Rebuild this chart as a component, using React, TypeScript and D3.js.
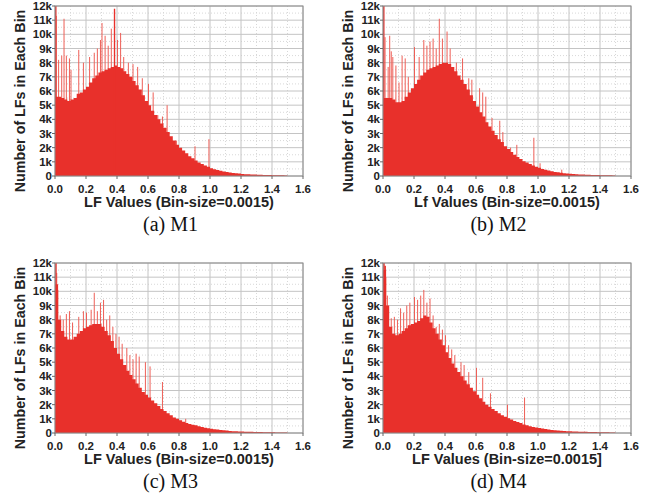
import React from 'react';
import * as d3 from 'd3';

// histogram bins, in thousands, bin starts 0.00, 0.02, ... 1.48
const BIN = 0.02;

const m1Values = [
  5.6, 5.6, 5.5, 5.4, 5.3, 5.4, 5.5, 5.8, 5.9, 6.1,
  6.3, 6.6, 6.9, 7.1, 7.3, 7.4, 7.5, 7.6, 7.7, 7.8,
  7.7, 7.6, 7.4, 7.2, 7.0, 6.7, 6.4, 6.1, 5.7, 5.3,
  5.0, 4.6, 4.3, 4.0, 3.7, 3.4, 3.1, 2.8, 2.5, 2.2,
  2.0, 1.8, 1.6, 1.4, 1.25, 1.1, 0.95, 0.85, 0.75, 0.65,
  0.55, 0.48, 0.42, 0.37, 0.32, 0.28, 0.25, 0.22, 0.19, 0.17,
  0.15, 0.13, 0.12, 0.11, 0.1, 0.09, 0.08, 0.075, 0.07, 0.065,
  0.06, 0.055, 0.05, 0.045, 0.04,
];

const m2Values = [
  5.5, 5.5, 5.5, 5.4, 5.2, 5.2, 5.3, 5.6, 5.9, 6.2,
  6.5, 6.8, 7.1, 7.3, 7.5, 7.6, 7.7, 7.8, 7.9, 8.0,
  8.0, 7.9, 7.7, 7.4, 7.1, 6.8, 6.5, 6.1, 5.7, 5.3,
  4.9, 4.5, 4.2, 3.8, 3.5, 3.2, 2.9, 2.6, 2.4, 2.1,
  1.9, 1.7, 1.5, 1.35, 1.2, 1.05, 0.95, 0.85, 0.75, 0.65,
  0.58, 0.5, 0.44, 0.38, 0.33, 0.29, 0.26, 0.23, 0.2, 0.18,
  0.16, 0.14, 0.12, 0.11, 0.1, 0.09, 0.08, 0.075, 0.07, 0.065,
  0.06, 0.055, 0.05, 0.045, 0.04,
];

const m3Values = [
  10.5, 8.0, 7.2, 6.8, 6.6, 6.6, 6.8, 7.0, 7.2, 7.4,
  7.5, 7.6, 7.7, 7.7, 7.7, 7.5, 7.2, 6.9, 6.5, 6.0,
  5.6, 5.2, 4.8, 4.4, 4.1, 3.8, 3.5, 3.2, 2.9, 2.7,
  2.5, 2.3, 2.1, 1.9, 1.7, 1.55, 1.4, 1.25, 1.1, 1.0,
  0.9, 0.8, 0.7, 0.64, 0.59, 0.55, 0.48, 0.42, 0.37, 0.33,
  0.3, 0.27, 0.24, 0.21, 0.19, 0.17, 0.15, 0.13, 0.12, 0.11,
  0.1, 0.09, 0.085, 0.08, 0.075, 0.07, 0.065, 0.06, 0.055, 0.05,
  0.045, 0.04, 0.035, 0.03, 0.03,
];

const m4Values = [
  11.5, 9.0, 7.5, 7.0, 6.9, 7.0, 7.2, 7.4, 7.6, 7.7,
  7.8, 7.9, 8.1, 8.3, 8.2, 7.8, 7.4, 7.0, 6.6, 6.2,
  5.7, 5.3, 4.9, 4.6, 4.3, 4.0, 3.7, 3.45, 3.2, 2.95,
  2.7, 2.45, 2.2, 2.0, 1.85, 1.7, 1.55, 1.4, 1.25, 1.15,
  1.05, 0.95, 0.85, 0.77, 0.7, 0.6, 0.54, 0.48, 0.43, 0.39,
  0.35, 0.31, 0.28, 0.25, 0.22, 0.2, 0.18, 0.16, 0.14, 0.13,
  0.12, 0.11, 0.1, 0.09, 0.085, 0.08, 0.075, 0.07, 0.065, 0.06,
  0.055, 0.05, 0.045, 0.04, 0.035,
];

// single outlier bins [LF value, count in k]
const m1Spikes = [
  [0.001, 12], [0.005, 11.3], [0.02, 8.2], [0.04, 8.5], [0.055, 11.1], [0.07, 8.5],
  [0.09, 8.3], [0.1, 7.5], [0.15, 8.9], [0.18, 8.0], [0.22, 8.4], [0.25, 8.7],
  [0.27, 9.0], [0.29, 9.6], [0.3, 10.8], [0.32, 9.9], [0.34, 9.2], [0.36, 10.4],
  [0.38, 11.8], [0.4, 9.6], [0.42, 10.1], [0.44, 8.4], [0.47, 8.0], [0.5, 7.9],
  [0.53, 7.7], [0.56, 6.9], [0.6, 6.5], [0.63, 5.9], [0.66, 4.3], [0.69, 4.2],
  [0.72, 5.0], [0.78, 2.5], [0.9, 2.1], [0.99, 2.6],
];

const m2Spikes = [
  [0.001, 12], [0.01, 9.8], [0.03, 7.7], [0.04, 9.9], [0.05, 8.8], [0.06, 8.4],
  [0.08, 7.8], [0.1, 6.6], [0.12, 8.5], [0.14, 8.3], [0.16, 7.0], [0.2, 9.1],
  [0.23, 8.4], [0.26, 9.6], [0.28, 9.2], [0.3, 9.5], [0.32, 9.7], [0.34, 9.0],
  [0.36, 11.1], [0.38, 9.7], [0.41, 10.2], [0.43, 9.0], [0.47, 8.0], [0.51, 8.3],
  [0.55, 6.9], [0.57, 6.8], [0.62, 6.2], [0.64, 5.9], [0.66, 5.6], [0.7, 4.1],
  [0.75, 3.9], [0.77, 3.1], [0.82, 2.0], [0.86, 2.2], [0.97, 2.7], [1.01, 0.9],
  [1.15, 0.45],
];

const m3Spikes = [
  [0.002, 12], [0.008, 11.3], [0.015, 10.1], [0.03, 8.3], [0.05, 8.0], [0.07, 8.4],
  [0.09, 8.6], [0.11, 7.8], [0.15, 8.2], [0.18, 8.6], [0.2, 8.5], [0.23, 8.7],
  [0.25, 9.9], [0.27, 8.6], [0.29, 9.2], [0.31, 9.4], [0.33, 8.0], [0.35, 8.3],
  [0.37, 7.5], [0.39, 7.0], [0.41, 6.8], [0.43, 6.3], [0.46, 6.0], [0.48, 5.5],
  [0.5, 5.2], [0.52, 5.6], [0.54, 5.4], [0.58, 5.0], [0.61, 4.7], [0.69, 3.6],
  [0.84, 1.0],
];

const m4Spikes = [
  [0.002, 12], [0.01, 11.8], [0.015, 11.0], [0.025, 9.7], [0.05, 8.1], [0.07, 8.2],
  [0.09, 8.0], [0.11, 8.8], [0.13, 8.5], [0.15, 9.0], [0.17, 9.2], [0.2, 9.6],
  [0.22, 9.4], [0.24, 9.7], [0.26, 10.1], [0.28, 9.2], [0.3, 9.5], [0.32, 8.3],
  [0.34, 7.5], [0.36, 7.7], [0.38, 7.3], [0.4, 6.9], [0.42, 6.2], [0.44, 5.9],
  [0.46, 5.5], [0.5, 5.0], [0.52, 4.8], [0.55, 4.3], [0.6, 4.6], [0.64, 3.9],
  [0.69, 2.8], [0.8, 2.0], [0.91, 2.5],
];

const xTicks = [0, 0.2, 0.4, 0.6, 0.8, 1.0, 1.2, 1.4, 1.6];
const xMinor = [0.1, 0.3, 0.5, 0.7, 0.9, 1.1, 1.3, 1.5];
const yTicks = [0, 1, 2, 3, 4, 5, 6, 7, 8, 9, 10, 11, 12];
const yMinor = [0.5, 1.5, 2.5, 3.5, 4.5, 5.5, 6.5, 7.5, 8.5, 9.5, 10.5, 11.5];
const yTickLabels = ['0', '1k', '2k', '3k', '4k', '5k', '6k', '7k', '8k', '9k', '10k', '11k', '12k'];

const yTitle = 'Number of LFs in Each Bin';
const panels = [
  { values: m1Values, spikes: m1Spikes, xTitle: 'LF Values (Bin-size=0.0015)', caption: '(a) M1', dx: 0, dy: 0 },
  { values: m2Values, spikes: m2Spikes, xTitle: 'Lf Values (Bin-size=0.0015)', caption: '(b) M2', dx: 328, dy: 0 },
  { values: m3Values, spikes: m3Spikes, xTitle: 'LF Values (Bin-size=0.0015)', caption: '(c) M3', dx: 0, dy: 257 },
  { values: m4Values, spikes: m4Spikes, xTitle: 'LF Values (Bin-size=0.0015]', caption: '(d) M4', dx: 328, dy: 257 },
];

const W = 248, H = 170;
const sans = '"Liberation Sans", Arial, sans-serif';
const RED = '#e8302b';
const SPIKE = '#ee5f57';

function Histogram({ values, spikes, xTitle, caption, dx, dy }) {
  const x = d3.scaleLinear().domain([0, 1.6]).range([0, W]);
  const y = d3.scaleLinear().domain([0, 12]).range([H, 0]);

  // step area: each bin keeps its count until the next bin starts
  const steps = values.map((v, i) => [i * BIN, v]).concat([[values.length * BIN, values[values.length - 1]]]);
  const body = d3.area()
    .x(d => x(d[0]))
    .y0(y(0))
    .y1(d => y(d[1]))
    .curve(d3.curveStepAfter)(steps);

  return (
    <g transform={`translate(${55 + dx},${6 + dy})`}>
      <rect x={0} y={0} width={W} height={H} fill="#fff" />
      {xMinor.map(t => (
        <line key={'xm' + t} x1={x(t)} x2={x(t)} y1={0} y2={H} stroke="#d8d8d8" strokeDasharray="1,2" />
      ))}
      {yMinor.map(t => (
        <line key={'ym' + t} x1={0} x2={W} y1={y(t)} y2={y(t)} stroke="#d8d8d8" strokeDasharray="1,2" />
      ))}
      {xTicks.map(t => (
        <line key={'xg' + t} x1={x(t)} x2={x(t)} y1={0} y2={H} stroke="#c4c4c4" />
      ))}
      {yTicks.map(t => (
        <line key={'yg' + t} x1={0} x2={W} y1={y(t)} y2={y(t)} stroke="#c4c4c4" />
      ))}

      {spikes.map((s, i) => (
        <rect key={'s' + i} x={x(s[0])} width={1} y={y(s[1])} height={y(0) - y(s[1])} fill={SPIKE} />
      ))}
      <path d={body} fill={RED} />
      {spikes.filter(s => s[1] >= 11.5).map((s, i) => (
        <rect key={'t' + i} x={x(s[0])} width={1.3} y={y(s[1])} height={y(0) - y(s[1])} fill={RED} />
      ))}

      <rect x={0} y={0} width={W} height={H} fill="none" stroke="#8a8a8a" />

      {xTicks.map(t => (
        <g key={'xt' + t} transform={`translate(${x(t)},${H})`}>
          <line y1={0} y2={3} stroke="#666" />
          <text y={16.5} textAnchor="middle" fontFamily={sans} fontWeight="bold" fontSize={11.5} fill="#222">
            {t.toFixed(1)}
          </text>
        </g>
      ))}
      {yTicks.map((t, i) => (
        <g key={'yt' + t} transform={`translate(0,${y(t)})`}>
          <line x1={-3} x2={0} stroke="#666" />
          <text x={-3} dy="0.36em" textAnchor="end" fontFamily={sans} fontWeight="bold" fontSize={11.5} fill="#222">
            {yTickLabels[i]}
          </text>
        </g>
      ))}

      <text transform={`translate(-30,${H / 2 + 10}) rotate(-90)`} textAnchor="middle"
        fontFamily={sans} fontWeight="bold" fontSize={14.3} fill="#222">
        {yTitle}
      </text>
      <text x={W / 2} y={201} textAnchor="middle" fontFamily={sans} fontWeight="bold" fontSize={14.5} fill="#222">
        {xTitle}
      </text>
      <text x={W / 2 - 8.5} y={225} textAnchor="middle" fontFamily='"Liberation Serif", "Times New Roman", serif'
        fontSize={20} fill="#111">
        {caption}
      </text>
    </g>
  );
}

export default function App() {
  return (
    <svg width={657} height={493} style={{ position: 'absolute', left: 0, top: 0, background: '#fff' }}>
      {panels.map(p => <Histogram key={p.caption} {...p} />)}
    </svg>
  );
}
